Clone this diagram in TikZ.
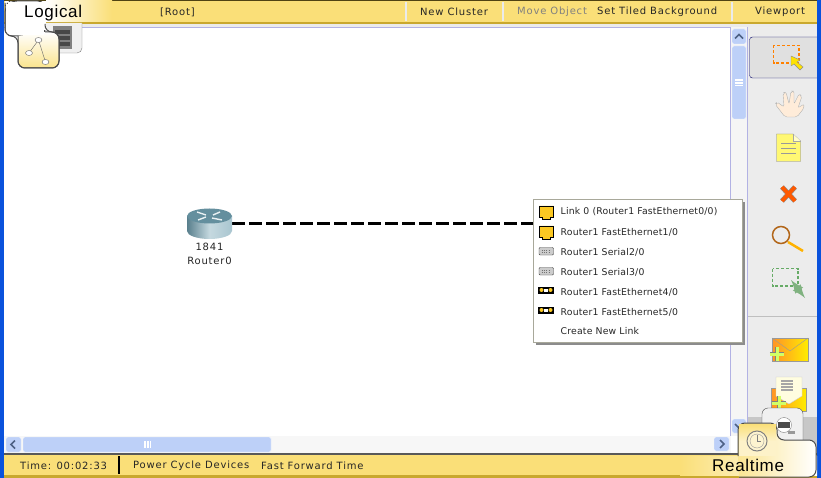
\documentclass[tikz,border=0pt]{standalone}
\usepackage{fontspec}
\setmainfont{DejaVu Sans}
\newfontfamily\barfont[LetterSpace=8]{DejaVu Sans}
\newfontfamily\menufont[LetterSpace=2]{DejaVu Sans}
\newfontfamily\tabfont[LetterSpace=4]{Liberation Sans}
\usetikzlibrary{arrows,shapes}
\definecolor{barYellow}{HTML}{FADF78}
\definecolor{barGold}{HTML}{C9A82E}
\definecolor{xpBlue}{HTML}{0A52DC}
\definecolor{panelGray}{HTML}{ECECEC}
\definecolor{scrollBlue}{HTML}{BDD0F8}
\definecolor{scrollEdge}{HTML}{F4F7FE}
\definecolor{arrowBlue}{HTML}{4D6185}
\definecolor{portYellow}{HTML}{FBC822}
\definecolor{menuEdge}{HTML}{A8A89A}
\definecolor{routerBlue}{HTML}{6F9FB0}
\tikzstyle{label}=[inner sep=0pt,anchor=west,font=\barfont\fontsize{10}{12}\selectfont,text=black!85]
\tikzstyle{greyed label}=[label,text=black!50]
\tikzstyle{tab label}=[inner sep=0pt,anchor=west,font=\tabfont\fontsize{17}{19}\selectfont,text=black]
\tikzstyle{menu label}=[label,font=\menufont\fontsize{9.3}{11}\selectfont]
\tikzstyle{scroll}=[draw=scrollEdge,fill=scrollBlue,rounded corners=1.5pt]
\tikzstyle{scroll arrow}=[draw=arrowBlue,line width=1.5pt]
\tikzstyle{link}=[draw,line width=3pt,black,dash pattern=on 12.5pt off 4.5pt]
\tikzstyle{tab edge}=[draw=black!70,line width=1pt,rounded corners=7pt]
\begin{document}
\begin{tikzpicture}[x=1pt,y=-1pt]
    \useasboundingbox (0,0) rectangle (821,478);
    % First we draw the window parts
    \fill[white] (0,0) rectangle (821,478);
    \fill[panelGray] (748,27) rectangle (817,453);
    \fill[black!22] (748,417) rectangle (817,453);
    \fill[black!4] (731,27) rectangle (748,436);
    \fill[black!3] (4,436) rectangle (731,453);
    \fill[black!8] (4,24) rectangle (817,27);
    \fill[barYellow] (0,1) rectangle (821,22);
    \fill[barGold] (0,22) rectangle (821,24);
    \fill[black!60!barGold] (0,0) rectangle (821,1);
    \fill[barYellow] (0,455) rectangle (821,475);
    \fill[barGold] (0,475) rectangle (821,478);
    \fill[black!65] (0,453) rectangle (821,455);
    \fill[xpBlue] (0,0) rectangle (4,478);
    \fill[xpBlue] (817,0) rectangle (821,478);
    \draw[black!35!blue!30] (4,27) -- (730.5,27) -- (730.5,436);
    \draw[black!35!blue!30] (747.5,27) -- (747.5,453);
    \foreach \x in {406,503,732}
        \draw[line width=1.5pt,black!8] (\x,2) -- (\x,21);
    \draw[line width=2pt,black] (119,456) -- (119,474);

    % Then the scroll bars
    \draw[scroll] (732,29) rectangle (746,44);
    \draw[scroll] (732,46) rectangle (746,119);
    \draw[scroll] (732,419) rectangle (746,433);
    \draw[scroll] (6,437) rectangle (21,452);
    \draw[scroll] (23,437) rectangle (271,452);
    \draw[scroll] (714,437) rectangle (729,451);
    \draw[scroll arrow] (735,38.5) -- (739,34.5) -- (743,38.5);
    \draw[scroll arrow] (735,424) -- (739,428) -- (743,424);
    \draw[scroll arrow] (15,440.5) -- (11,444.5) -- (15,448.5);
    \draw[scroll arrow] (720,440) -- (724,444) -- (720,448);
    \foreach \d in {-3,-1.5,0,1.5,3} {
        \draw[white,line width=.7pt] (735,82+\d) -- (743,82+\d);
        \draw[white,line width=.7pt] (147+\d,441) -- (147+\d,448);
    }

    % Top left tabs
    \draw[draw=black!50,fill=black!6,rounded corners=5pt] (45,23) -- (45,53) -- (82,53) -- (82,23);
    \fill[black!50] (53,26) rectangle (72,49);
    \foreach \y in {30,36,42}
        \fill[black!72] (55,\y) rectangle (70,\y+4);
    \fill[white] (5,1) rectangle (46,24);
    \shade[left color=white,right color=barYellow] (46,1) rectangle (112,22);
    \path[tab edge,fill=white] (5,6) -- (5,36) -- (18,36) -- (45,36) -- (45,1) -- (10,1) -- cycle;
    \fill[white] (8,2) rectangle (46,30);
    \shade[tab edge,top color=white,bottom color=barYellow!85] (18,36) -- (18,68) -- (59,68) -- (59,32) -- (45,32);
    \fill[white] (6,4) rectangle (44,35);
    \draw[tab edge,line width=1pt] (5,3) -- (5,36) -- (18,36) -- (18,68) -- (59,68) -- (59,32) -- (45,32) -- (45,24);
    \draw[black!60] (38.5,40) -- (29,53) (38.5,40) -- (45.5,62);
    \foreach \pos/\name in {{(38.5,40)/logicA}, {(29,53)/logicB}, {(45.5,62)/logicC}}
        \node[draw=black!60,fill=white,ellipse,minimum width=7pt,minimum height=5pt,inner sep=0pt] (\name) at \pos {};

    % Toolbar icons on the right
    \draw[draw=blue!40!black,fill=black!12,rounded corners=3pt] (822,37) -- (749.5,37) -- (749.5,78) -- (822,78);
    \fill[xpBlue] (817,30) rectangle (821,85);
    \draw[orange,line width=1.5pt,densely dashed] (773.5,45.5) rectangle (799,63);
    \draw[black!45,fill=yellow!85!orange] (791,56) -- (791,66) -- (794,64) -- (800,70) -- (803,67) -- (797,62) -- (800,60) -- cycle;
    \draw[black!30,fill=orange!15,rounded corners=2pt] (785,117) -- (775,104) -- (777,102) -- (784,107) -- (783,93) -- (786,92) -- (789,104) -- (791,91) -- (794,91) -- (794,104) -- (799,94) -- (802,96) -- (798,108) -- (804,104) -- (804,108) -- (797,117) -- cycle;
    \draw[black!50,fill=yellow!55] (776.5,134) -- (793,134) -- (800.5,141) -- (800.5,161.5) -- (776.5,161.5) -- cycle;
    \draw[black!35,fill=yellow!20] (793,134) -- (793,141) -- (800.5,141);
    \foreach \y in {143,148,153}
        \draw[black!40,line width=.8pt] (781,\y) -- (796,\y);
    \draw[black!45,line width=5pt] (782,187) -- (795,201) (795,187) -- (782,201);
    \draw[orange!70!red,line width=3.8pt] (782,187) -- (795,201) (795,187) -- (782,201);
    \draw[brown!50!orange!80!black,line width=1.5pt] (781,235) circle (8.5pt);
    \draw[orange!60!yellow,line width=2.5pt] (788,242) -- (803,251);
    \draw[green!45!black!60,line width=1.5pt,densely dashed] (772.5,268.5) rectangle (798,286);
    \draw[green!40!black!50,line width=3.5pt,<->,>=latex] (791,280) -- (805,298);
    \fill[black!25] (748,316) rectangle (817,317);
    \shade[draw=black!40,left color=orange!85,right color=yellow!85!orange] (772,338) rectangle (808,361);
    \draw[black!40] (772,338) -- (790,351) -- (808,338);
    \shade[draw=black!40,left color=orange!85,right color=yellow!85!orange] (771,388) rectangle (806,411);
    \draw[black!20,fill=yellow!12] (776,377) -- (802,377) -- (802,396) -- (789,404) -- (776,396) -- cycle;
    \foreach \y in {381,384,387,390}
        \draw[black!35,line width=1.5pt] (781,\y) -- (793,\y);
    \foreach \pos/\name in {{(777,354)/plusA}, {(779,403)/plusB}} {
        \node[inner sep=0pt,minimum size=14pt] (\name) at \pos {};
        \draw[black!50,line width=4.5pt] (\name.west) -- (\name.east) (\name.north) -- (\name.south);
        \draw[green!30!yellow!60,line width=3pt] (\name.west) -- (\name.east) (\name.north) -- (\name.south);
    }

    % Bottom right tabs
    \draw[draw=black!70,fill=black!6,rounded corners=6pt] (762,450) -- (762,408) -- (803,408) -- (803,450);
    \draw[black!50,fill=white] (784,425) circle (7.5pt);
    \fill[black!70] (778,422) rectangle (790,428);
    \fill[black!40] (788,431) rectangle (795,434);
    \shade[left color=barYellow,right color=white] (680,456) rectangle (817,475);
    \path[draw=black!70,line width=1pt,left color=barYellow!80,right color=white,rounded corners=7pt] (738,456) -- (738,423) -- (777,423) -- (777,440) -- (816,440) -- (816,477) -- (739,477);
    \fill[white!60!barYellow] (739,441) rectangle (776,456);
    \shade[top color=barYellow,bottom color=white!60!barYellow] (739,424) rectangle (776,441);
    \draw[black!50,line width=1pt,fill=white!65!barYellow] (757,441) circle (10pt);
    \draw[black!40] (757,441) circle (7pt);
    \draw[black!50] (757,435) -- (757,441) -- (761,441);

    % Now the router and its link
    \node[minimum width=45pt,minimum height=31pt,inner sep=0pt] (router) at (209.5,224) {};
    \node[minimum width=209pt,minimum height=143pt,inner sep=0pt] (menu) at (637.5,270.5) {};
    \path[link] (router.east) -- (router.east -| menu.west);
    \shade[left color=routerBlue!80!black,right color=routerBlue!60,middle color=white!60!routerBlue] (187,216) -- (187,231) arc[start angle=180,end angle=360,x radius=22.5pt,y radius=8pt] -- (232,216) -- cycle;
    \fill[routerBlue!90!black] (209.5,216) ellipse (22.5pt and 7.5pt);
    \draw[white!85!routerBlue,line width=1.4pt] (197,212) -- (206,215) (212,218) -- (222,220) (220,212) -- (213,215) (206,217) -- (198,220);
    \node[label,anchor=center] (model) at (209.5,247) {1841};
    \node[label,anchor=center] (name) at (209.5,261) {Router0};

    % The link menu with its ports
    \fill[black!45] (536,202) rectangle (745,345);
    \draw[menuEdge,fill=white] (menu.north west) rectangle (menu.south east);
    \foreach \y/\name/\txt in {212/itemA/{Link 0 (Router1 FastEthernet0/0)}, 232/itemB/{Router1 FastEthernet1/0}, 252/itemC/{Router1 Serial2/0}, 272/itemD/{Router1 Serial3/0}, 292/itemE/{Router1 FastEthernet4/0}, 312/itemF/{Router1 FastEthernet5/0}, 331/itemG/{Create New Link}}
        \node[menu label] (\name) at (560.5,\y) {\txt};
    \foreach \y in {212,232}
        \draw[black,fill=portYellow,line width=.8pt] (539,\y-6) -- (553.5,\y-6) -- (553.5,\y+5) -- (550,\y+5) -- (550,\y+7) -- (542.5,\y+7) -- (542.5,\y+5) -- (539,\y+5) -- cycle;
    \foreach \y in {251,271} {
        \draw[black!75,fill=black!20,rounded corners=1pt] (539,\y-3.5) rectangle (553.5,\y+4);
        \draw[black!55,dotted] (541.5,\y-1) -- (551,\y-1) (541.5,\y+1.5) -- (551,\y+1.5);
    }
    \foreach \y in {290,310} {
        \fill[black] (538,\y-3.5) rectangle (554,\y+3.5);
        \fill[white] (544,\y-1.5) rectangle (548,\y+1.5);
        \fill[portYellow] (541.5,\y) circle (2pt) (550.5,\y) circle (2pt);
    }

    % Texts on the bars
    \foreach \x/\y/\name/\txt in {160/12/rootText/{[Root]}, 420/12/clusterText/New Cluster, 597/12/tiledText/Set Tiled Background, 755/12/viewText/Viewport, 20/466/timeText/Time: 00:02:33, 133/466/powerText/Power Cycle Devices, 261/466/forwardText/Fast Forward Time}
        \node[label] (\name) at (\x,\y) {\txt};
    \node[greyed label] (moveText) at (517,12) {Move Object};
    \node[tab label] (logicalText) at (24,13) {Logical};
    \node[tab label] (realtimeText) at (712,465) {Realtime};
\end{tikzpicture}
\end{document}
